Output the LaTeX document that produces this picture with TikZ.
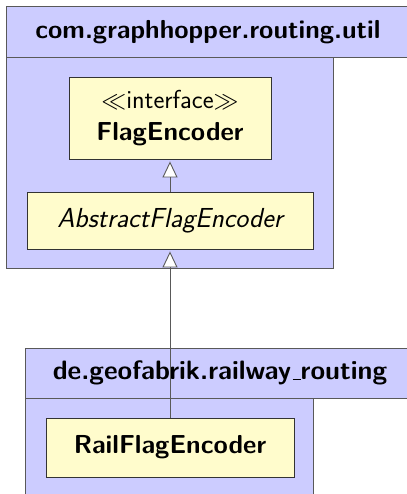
\documentclass[tikz,border=0pt]{standalone}
\usetikzlibrary{arrows.meta}
\renewcommand{\familydefault}{\sfdefault}
\newcommand{\thinus}{\leavevmode\kern.06em\vbox{\hrule width .3em height 1.1pt}}
\begin{document}
\begin{tikzpicture}[x=1pt,y=1pt,
  pkg/.style={draw=black!65, fill=blue!20, line width=0.9pt},
  cls/.style={draw=black!80, fill=yellow!20, line width=0.9pt, inner sep=0pt},
  lbl/.style={font=\fontsize{26}{31}\selectfont\bfseries, inner sep=0pt},
  conn/.style={draw=black!65, line width=0.9pt, -{Triangle[open, width=15pt, length=16pt, fill=white]}}]
\useasboundingbox (0,0) rectangle (406,-494);
% top package
\path[pkg] (6,-57) rectangle (333,-268);
\path[pkg] (6,-6) rectangle (420,-57);
\node[lbl] (pk1) at (208,-32) {com.graphhopper.routing.util};
\node[cls, minimum width=202pt, minimum height=82pt, align=center, font=\fontsize{26}{32}\selectfont] (fe) at (170,-118) {$\ll$interface$\gg$\\\textbf{FlagEncoder}};
\node[cls, minimum width=286pt, minimum height=57pt, font=\fontsize{27.5}{32}\selectfont\itshape] (afe) at (170,-220.5) {AbstractFlagEncoder};
% bottom package
\path[pkg] (25,-398) rectangle (313,-520);
\path[pkg] (25,-348) rectangle (420,-398);
\node[lbl, font=\fontsize{26.6}{31}\selectfont\bfseries] (pk2) at (220,-373) {de.geofabrik.railway\thinus routing};
\node[cls, minimum width=248pt, minimum height=59pt, font=\fontsize{26}{31}\selectfont\bfseries] (rfe) at (170,-447.5) {RailFlagEncoder};
% connectors
\draw[conn] (afe.north) -- ([yshift=-2pt]fe.south);
\draw[conn] (rfe.north) -- ([yshift=-2pt]afe.south);
\end{tikzpicture}
\end{document}
